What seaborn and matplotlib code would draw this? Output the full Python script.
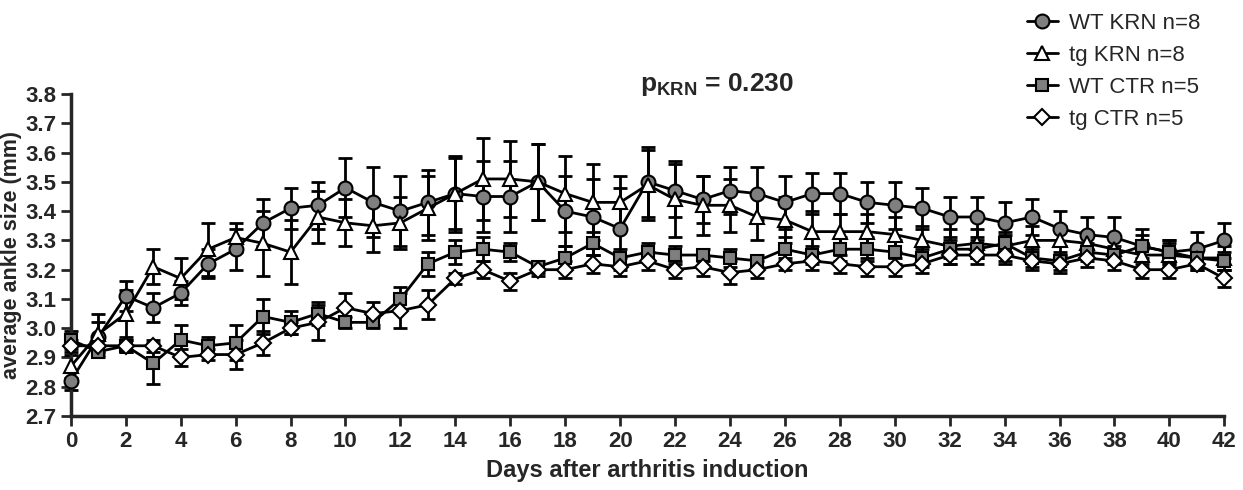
import matplotlib
matplotlib.use("Agg")
import matplotlib.pyplot as plt
import seaborn as sns
import numpy as np

days = list(range(43))

wt_krn = [2.82, 2.97, 3.11, 3.07, 3.12, 3.22, 3.27, 3.36, 3.41, 3.42, 3.48, 3.43, 3.40, 3.43, 3.46,
          3.45, 3.45, 3.50, 3.40, 3.38, 3.34, 3.50, 3.47, 3.44, 3.47, 3.46, 3.43, 3.46, 3.46, 3.43,
          3.42, 3.41, 3.38, 3.38, 3.36, 3.38, 3.34, 3.32, 3.31, 3.28, 3.26, 3.27, 3.30]
wt_krn_err = [0.03, 0.05, 0.05, 0.05, 0.04, 0.05, 0.07, 0.08, 0.07, 0.08, 0.10, 0.12, 0.12, 0.11, 0.13,
              0.12, 0.12, 0.13, 0.12, 0.13, 0.14, 0.12, 0.09, 0.08, 0.08, 0.09, 0.09, 0.07, 0.07, 0.07,
              0.08, 0.07, 0.07, 0.07, 0.07, 0.06, 0.06, 0.06, 0.07, 0.06, 0.04, 0.06, 0.06]

tg_krn = [2.87, 2.98, 3.05, 3.21, 3.17, 3.27, 3.31, 3.29, 3.26, 3.38, 3.36, 3.35, 3.36, 3.41, 3.46,
          3.51, 3.51, 3.50, 3.46, 3.43, 3.43, 3.49, 3.44, 3.42, 3.42, 3.38, 3.37, 3.33, 3.33, 3.33,
          3.32, 3.30, 3.28, 3.29, 3.28, 3.30, 3.30, 3.29, 3.27, 3.25, 3.25, 3.24, 3.24]
tg_krn_err = [0.04, 0.07, 0.08, 0.06, 0.07, 0.09, 0.05, 0.11, 0.11, 0.09, 0.08, 0.09, 0.09, 0.11, 0.12,
              0.14, 0.13, 0.13, 0.13, 0.13, 0.09, 0.12, 0.13, 0.10, 0.09, 0.08, 0.08, 0.07, 0.06, 0.06,
              0.06, 0.05, 0.06, 0.05, 0.05, 0.05, 0.05, 0.04, 0.04, 0.04, 0.04, 0.04, 0.04]

wt_ctr = [2.96, 2.92, 2.94, 2.88, 2.96, 2.94, 2.95, 3.04, 3.02, 3.05, 3.02, 3.02, 3.10, 3.22, 3.26,
          3.27, 3.26, 3.21, 3.24, 3.29, 3.24, 3.26, 3.25, 3.25, 3.24, 3.23, 3.27, 3.25, 3.27, 3.27,
          3.26, 3.24, 3.27, 3.27, 3.29, 3.24, 3.23, 3.26, 3.25, 3.28, 3.26, 3.24, 3.23]
wt_ctr_err = [0.03, 0.02, 0.02, 0.07, 0.05, 0.03, 0.06, 0.06, 0.04, 0.04, 0.02, 0.02, 0.04, 0.04, 0.04,
              0.04, 0.03, 0.02, 0.04, 0.04, 0.03, 0.03, 0.03, 0.02, 0.03, 0.02, 0.04, 0.03, 0.04, 0.04,
              0.04, 0.03, 0.03, 0.03, 0.03, 0.03, 0.03, 0.03, 0.03, 0.04, 0.04, 0.03, 0.03]

tg_ctr = [2.94, 2.94, 2.94, 2.94, 2.90, 2.91, 2.91, 2.95, 3.00, 3.02, 3.07, 3.05, 3.06, 3.08, 3.17,
          3.20, 3.16, 3.20, 3.20, 3.22, 3.21, 3.23, 3.20, 3.21, 3.19, 3.20, 3.22, 3.23, 3.22, 3.21,
          3.21, 3.22, 3.25, 3.25, 3.25, 3.23, 3.22, 3.24, 3.23, 3.20, 3.20, 3.22, 3.17]
tg_ctr_err = [0.02, 0.02, 0.02, 0.02, 0.03, 0.02, 0.05, 0.04, 0.02, 0.06, 0.05, 0.04, 0.06, 0.05, 0.02,
              0.03, 0.03, 0.02, 0.03, 0.03, 0.03, 0.03, 0.03, 0.03, 0.04, 0.03, 0.02, 0.03, 0.03, 0.03,
              0.03, 0.03, 0.03, 0.03, 0.03, 0.03, 0.03, 0.03, 0.03, 0.03, 0.03, 0.02, 0.03]

labels = ["WT KRN n=8", "tg KRN n=8", "WT CTR n=5", "tg CTR n=5"]
x_ticks = list(range(0, 43, 2))
y_ticks = [2.7, 2.8, 2.9, 3.0, 3.1, 3.2, 3.3, 3.4, 3.5, 3.6, 3.7, 3.8]

sns.set_style("ticks")
plt.rcParams["font.family"] = ["Liberation Sans", "DejaVu Sans"]
plt.rcParams["mathtext.fontset"] = "custom"
plt.rcParams["mathtext.bf"] = "Liberation Sans:bold"
plt.rcParams["mathtext.rm"] = "Liberation Sans"

fig = plt.figure(figsize=(12.43, 4.9), dpi=100)
ax = fig.add_axes([0.057, 0.151, 0.928, 0.657])

series = [
    (wt_krn, wt_krn_err, "o", "#7f7f7f", 10),
    (tg_krn, tg_krn_err, "^", "white", 10),
    (wt_ctr, wt_ctr_err, "s", "#7f7f7f", 9),
    (tg_ctr, tg_ctr_err, "D", "white", 8),
]

for (vals, err, mk, fc, ms), lab in zip(series, labels):
    ax.errorbar(days, vals, yerr=err, fmt="none", ecolor="black", elinewidth=2,
                capsize=5, capthick=2, zorder=2, clip_on=False)
    sns.lineplot(x=days, y=vals, ax=ax, color="black", lw=2, marker=mk, markersize=ms,
                 markerfacecolor=fc, markeredgecolor="black", markeredgewidth=1.5,
                 label=lab, zorder=3, clip_on=False)

ax.set_xlim(0, 42)
ax.set_ylim(2.7, 3.8)
ax.set_xticks(x_ticks)
ax.set_yticks(y_ticks)
ax.set_yticklabels([f"{v:.1f}" for v in y_ticks])
sns.despine(ax=ax)
for s in ["left", "bottom"]:
    ax.spines[s].set_linewidth(2.5)
ax.tick_params(width=2, length=7, labelsize=16, direction="out")
for t in ax.get_xticklabels() + ax.get_yticklabels():
    t.set_fontweight("bold")

ax.set_xlabel("Days after arthritis induction", fontsize=17, fontweight="bold", labelpad=5)
ax.set_ylabel("average ankle size (mm)", fontsize=15.5, fontweight="bold", labelpad=2)

fig.text(0.515, 0.815, r"$\mathbf{p}_{\mathbf{KRN}}$" + " = 0.230", fontsize=19,
         fontweight="bold", ha="left", va="baseline")

ax.legend(loc="upper left", bbox_to_anchor=(0.81, 1.015), bbox_transform=fig.transFigure,
          frameon=False, fontsize=16, handlelength=1.4, handletextpad=0.5, labelspacing=0.5)

fig.savefig("out.png", dpi=100)
